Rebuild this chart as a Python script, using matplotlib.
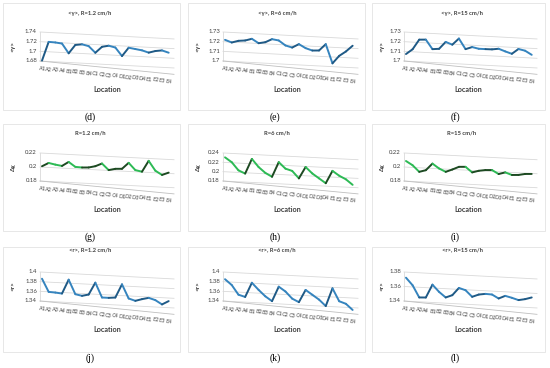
import math
import matplotlib.pyplot as plt
import matplotlib.transforms as mtransforms
from matplotlib.collections import LineCollection

plt.rcParams['font.family'] = ['Lato', 'DejaVu Sans']

locations = ['A1', 'A2', 'A3', 'A4', 'B1', 'B2', 'B3', 'B4', 'C1', 'C2',
             'C3', 'C4', 'D1', 'D2', 'D3', 'D4', 'E1', 'E2', 'E3', 'E4']

# <gamma>
gamma_r1 = [1.681, 1.7205, 1.720, 1.7185, 1.699, 1.717, 1.719, 1.716, 1.703, 1.716,
            1.719, 1.716, 1.699, 1.717, 1.715, 1.713, 1.709, 1.713, 1.715, 1.711]
gamma_r6 = [1.722, 1.7196, 1.7217, 1.7224, 1.7245, 1.7203, 1.7217, 1.7252, 1.7242, 1.7194,
            1.7176, 1.7215, 1.7177, 1.7156, 1.716, 1.7229, 1.7034, 1.7115, 1.7164, 1.7227]
gamma_r15 = [1.7073, 1.7126, 1.7229, 1.7233, 1.7138, 1.7145, 1.722, 1.7195, 1.7262, 1.7156,
             1.7181, 1.7167, 1.7167, 1.7168, 1.7178, 1.7154, 1.7133, 1.7186, 1.7172, 1.7133]
# delta chi
chi_r1 = [0.2012, 0.2064, 0.2045, 0.2031, 0.2093, 0.2027, 0.2023, 0.2028, 0.2051, 0.2094,
          0.2005, 0.2028, 0.2033, 0.2123, 0.2024, 0.2006, 0.2166, 0.203, 0.1974, 0.2012]
chi_r6 = [0.2309, 0.2212, 0.2045, 0.1983, 0.2304, 0.2137, 0.2019, 0.1943, 0.2263, 0.2131,
          0.209, 0.1937, 0.2188, 0.2056, 0.1959, 0.1862, 0.2134, 0.2037, 0.1967, 0.1856]
chi_r15 = [0.2087, 0.2031, 0.1942, 0.197, 0.2069, 0.2004, 0.1961, 0.1999, 0.2042, 0.2047,
           0.1972, 0.200, 0.2015, 0.202, 0.1968, 0.1996, 0.1964, 0.1969, 0.1988, 0.1993]
# <r>
r_r1 = [1.3863, 1.3598, 1.3591, 1.3578, 1.3872, 1.3579, 1.3552, 1.3586, 1.3839, 1.3539,
        1.3539, 1.3553, 1.3833, 1.3547, 1.3506, 1.3548, 1.3582, 1.3542, 1.346, 1.3536]
r_r6 = [1.3853, 1.374, 1.3547, 1.3508, 1.3808, 1.3668, 1.3542, 1.3449, 1.3756, 1.3663,
        1.3523, 1.3457, 1.3717, 1.3624, 1.3531, 1.3405, 1.3779, 1.3519, 1.3473, 1.3353]
r_r15 = [1.3723, 1.3623, 1.346, 1.3464, 1.3646, 1.3551, 1.3479, 1.3515, 1.362, 1.3593,
         1.3507, 1.3543, 1.3557, 1.3553, 1.3503, 1.3544, 1.3522, 1.3495, 1.3513, 1.3541]

ticks_gamma_r1 = [1.68, 1.70, 1.72, 1.74]
ticks_gamma = [1.70, 1.71, 1.72, 1.73]
ticks_chi = [0.18, 0.20, 0.22]
ticks_chi_r6 = [0.18, 0.20, 0.22, 0.24]
ticks_r = [1.34, 1.36, 1.38, 1.40]
ticks_r_r15 = [1.34, 1.36, 1.38]

titles = [['<γ>, R=1.2 cm/h', '<γ>, R=6 cm/h', '<γ>, R=15 cm/h'],
          ['R=1.2 cm/h', 'R=6 cm/h', 'R=15 cm/h'],
          ['<r>, R=1.2 cm/h', '<r>, R=6 cm/h', '<r>, R=15 cm/h']]
ylabels = ['<γ>', 'Δχ', '<r>']
panel_tags = [['(d)', '(e)', '(f)'], ['(g)', '(h)', '(i)'], ['(j)', '(k)', '(l)']]
series = [[gamma_r1, gamma_r6, gamma_r15], [chi_r1, chi_r6, chi_r15], [r_r1, r_r6, r_r15]]
yticks = [[ticks_gamma_r1, ticks_gamma, ticks_gamma],
          [ticks_chi, ticks_chi_r6, ticks_chi],
          [ticks_r, ticks_r, ticks_r_r15]]

W, H = 550, 368
fig = plt.figure(figsize=(5.5, 3.68), dpi=100)


def fx(px):
    return px / W


def fy(py):
    return 1 - py / H


# pixel layout (top-left origin)
box_x = [(3, 180), (188, 365), (372, 545)]
box_y = [(3, 110), (124, 231), (247, 352)]
wall_x = [(40, 174), (223, 358), (404, 537)]
wall_y = [(32, 61), (153, 181), (272, 301)]
title_y = [13, 133, 250]
loc_y = [90, 210, 330]
tag_y = [117, 237, 358]
title_cx = [90, 277, 462]
loc_cx = [107, 287, 468]
tag_cx = [90, 275, 455]

blue_up, blue_down = '#1F5A86', '#3584BE'
green_up, green_down = '#1D4A22', '#2DBA55'
grid_c = '#D9D9D9'


def skewed(ax, k, dy=0.0):
    return (ax.transData + ax.transAxes.inverted()
            + mtransforms.Affine2D().skew(0, -math.atan(k)).translate(0, dy)
            + ax.transAxes)


for r in range(3):
    for c in range(3):
        # chart border
        bx0, bx1 = box_x[c]
        by0, by1 = box_y[r]
        fig.add_artist(plt.Rectangle((fx(bx0), fy(by1)), fx(bx1 - bx0), (by1 - by0) / H,
                                     transform=fig.transFigure, fill=False,
                                     ec='#E3E3E3', lw=0.6))
        wx0, wx1 = wall_x[c]
        wy0, wy1 = wall_y[r]
        ax = fig.add_axes([fx(wx0), fy(wy1), fx(wx1 - wx0), (wy1 - wy0) / H])
        ax.set_axis_off()
        ticks = yticks[r][c]
        vals = series[r][c]
        n = len(vals)
        ax.set_xlim(-0.3, n - 0.2)
        ax.set_ylim(ticks[0], ticks[-1])
        wall_t = skewed(ax, 0.24)
        floor_t = skewed(ax, 0.46)
        label_t = skewed(ax, 0.46, -0.27)

        for g in ticks:
            ax.plot([-0.3, n - 0.2], [g, g], color=grid_c, lw=0.6,
                    transform=wall_t, clip_on=False)
            ax.text(-0.75, g, f'{g:g}', transform=wall_t, ha='right',
                    va='center', fontsize=4.3, color='#404040')
        ax.plot([-0.3, -0.3], [ticks[0], ticks[-1]], color=grid_c, lw=0.6,
                transform=wall_t, clip_on=False)
        ax.plot([-0.3, n - 0.2], [ticks[0], ticks[0]], color='#BFBFBF', lw=0.6,
                transform=floor_t, clip_on=False)

        for i, lab in enumerate(locations):
            ax.text(i, ticks[0], lab, transform=label_t, ha='center', va='center',
                    fontsize=3.9, rotation=-6, color='#404040')

        up, down = (green_up, green_down) if r == 1 else (blue_up, blue_down)
        segs = [[(i, vals[i]), (i + 1, vals[i + 1])] for i in range(n - 1)]
        cols = [up if vals[i + 1] > vals[i] else down for i in range(n - 1)]
        lc = LineCollection(segs, colors=cols, linewidths=1.4, transform=wall_t,
                            clip_on=False, capstyle='round', joinstyle='round')
        ax.add_collection(lc)

        fig.text(fx(title_cx[c]), fy(title_y[r]), titles[r][c], ha='center',
                 va='center', fontsize=4.2, fontweight='bold', color='#404040')
        fig.text(fx(bx0 + 10), fy((wy0 + wy1) / 2), ylabels[r], rotation=90,
                 ha='center', va='center', fontsize=4.6, fontweight='bold',
                 color='#404040')
        fig.text(fx(loc_cx[c]), fy(loc_y[r]), 'Location', ha='center', va='center',
                 fontsize=5.2, fontweight='bold', color='#404040')
        fig.text(fx(tag_cx[c]), fy(tag_y[r]), panel_tags[r][c], ha='center',
                 va='center', fontsize=7, family='Liberation Serif')

fig.savefig('out.png', dpi=100, facecolor='white')
